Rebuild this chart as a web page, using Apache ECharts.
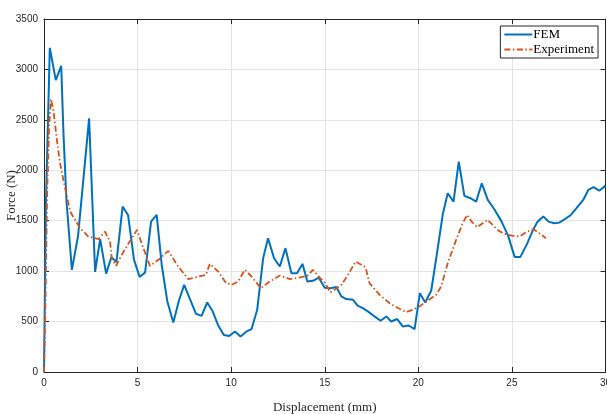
<!DOCTYPE html>
<html>
<head>
<meta charset="utf-8">
<script src="https://cdn.jsdelivr.net/npm/echarts@6/dist/echarts.min.js"></script>
<style>
  html, body { margin: 0; padding: 0; background: #fff; }
  #chart { width: 607px; height: 414px; }
</style>
</head>
<body>
<div id="chart"></div>
<script>
// Displacement (mm) / force (N) samples
const femX = [0, 0.1, 0.31, 0.63, 0.92, 1.04, 1.2, 1.49, 1.82, 2.41, 2.73, 3.0, 3.32, 3.6, 3.87, 4.2, 4.49, 4.81, 5.11, 5.4,
  5.72, 6.02, 6.29, 6.59, 6.91, 7.21, 7.49, 7.8, 8.12, 8.42, 8.72, 8.99, 9.31, 9.61, 9.9, 10.2, 10.5, 10.82, 11.09, 11.39,
  11.71, 11.97, 12.29, 12.6, 12.9, 13.22, 13.52, 13.81, 14.07, 14.37, 14.68, 15.0, 15.3, 15.62, 15.89, 16.15, 16.51, 16.77, 17.04, 17.36,
  17.66, 17.98, 18.29, 18.55, 18.87, 19.17, 19.49, 19.8, 20.08, 20.37, 20.69, 21.01, 21.31, 21.57, 21.88, 22.16, 22.46, 22.78, 23.09, 23.39,
  23.71, 24.06, 24.45, 24.8, 25.15, 25.45, 25.81, 26.11, 26.37, 26.68, 26.96, 27.26, 27.53, 27.85, 28.15, 28.45, 28.81, 29.08, 29.36, 29.67, 30.0];
const femY = [0, 1650, 3214, 2894, 3036, 2366, 1700, 1013, 1350, 2515, 993, 1317, 975, 1139, 1090, 1640, 1557, 1112, 943, 986,
  1491, 1557, 1062, 699, 491, 709, 864, 723, 577, 557, 689, 610, 461, 367, 356, 402, 353, 402, 426, 617,
  1129, 1327, 1129, 1046, 1228, 980, 980, 1072, 897, 904, 935, 836, 831, 842, 749, 723, 716, 656, 634, 594,
  551, 508, 551, 501, 525, 452, 461, 426, 782, 689, 808, 1194, 1567, 1772, 1689, 2085, 1746, 1723, 1689, 1871,
  1706, 1614, 1491, 1350, 1139, 1139, 1270, 1402, 1491, 1541, 1491, 1475, 1481, 1518, 1557, 1624, 1706, 1805, 1832, 1798, 1848];

const expX = [0, 0.08, 0.17, 0.28, 0.37, 0.5, 0.69, 0.85, 1.04, 1.4, 1.93, 2.37, 2.91, 3.26, 3.53, 3.62, 3.85, 4.15, 4.6, 4.97,
  5.31, 5.66, 6.11, 6.64, 7.17, 7.71, 8.15, 8.65, 8.86, 9.31, 9.72, 10.02, 10.37, 10.73, 11.09, 11.58, 12.06, 12.6, 13.13, 13.75,
  14.07, 14.37, 14.73, 15.0, 15.3, 15.89, 16.24, 16.65, 17.18, 17.39, 17.93, 18.46, 18.91, 19.35, 19.71, 20.06, 20.42, 20.95, 21.22, 21.57,
  22.02, 22.37, 22.61, 22.85, 23.14, 23.44, 23.71, 23.97, 24.28, 24.6, 24.99, 25.4, 25.81, 26.16, 26.46, 26.82];
const expY = [0, 700, 1800, 2450, 2706, 2600, 2300, 2080, 1900, 1590, 1426, 1343, 1317, 1392, 1293, 1129, 1052, 1161, 1300, 1409,
  1228, 1052, 1112, 1201, 1046, 921, 941, 963, 1072, 996, 884, 864, 897, 1013, 947, 831, 897, 957, 921, 940,
  953, 1013, 935, 887, 788, 864, 963, 1095, 1040, 881, 765, 683, 634, 594, 617, 650, 699, 765, 848, 1079,
  1310, 1475, 1557, 1491, 1436, 1475, 1508, 1458, 1402, 1369, 1352, 1343, 1392, 1416, 1376, 1327];

const xTicks = [0, 5, 10, 15, 20, 25, 30];
const yTicks = [0, 500, 1000, 1500, 2000, 2500, 3000, 3500];

const pairs = (xs, ys) => xs.map((x, i) => [x, ys[i]]);

const axisColor = '#262626';
const gridColor = '#e3e3e3';
const serif = '"Liberation Serif", "Times New Roman", serif';
const sans = '"Liberation Sans", Arial, sans-serif';

const chart = echarts.init(document.getElementById('chart'), null, { renderer: 'canvas' });

const baseX = {
  type: 'value', min: xTicks[0], max: xTicks[xTicks.length - 1], interval: 5,
  axisLine: { show: true, onZero: false, lineStyle: { color: axisColor, width: 1 } },
  axisTick: { show: true, inside: true, length: 5, lineStyle: { color: axisColor } }
};
const baseY = {
  type: 'value', min: yTicks[0], max: yTicks[yTicks.length - 1], interval: 500,
  axisLine: { show: true, onZero: false, lineStyle: { color: axisColor, width: 1 } },
  axisTick: { show: true, inside: true, length: 5, lineStyle: { color: axisColor } }
};

chart.setOption({
  animation: false,
  backgroundColor: '#ffffff',
  grid: { left: 44, right: 1.5, top: 19, bottom: 42, containLabel: false, outerBoundsMode: 'none' },
  legend: {
    data: ['FEM', 'Experiment'],
    orient: 'vertical',
    right: 9, top: 26,
    backgroundColor: '#ffffff',
    borderColor: '#262626', borderWidth: 1,
    padding: [2, 4, 2, 3],
    itemWidth: 28, itemHeight: 10, itemGap: 2,
    itemStyle: { opacity: 0 },
    textStyle: { fontFamily: serif, fontSize: 13, color: '#000', padding: [0, 0, 0, -4] }
  },
  xAxis: [
    Object.assign({}, baseX, {
      position: 'bottom',
      name: 'Displacement (mm)', nameLocation: 'middle', nameGap: 29, nameMoveOverlap: false,
      nameTextStyle: { fontFamily: serif, fontSize: 13, color: axisColor },
      axisLabel: { show: true, fontFamily: sans, fontSize: 10, color: axisColor, margin: 6, formatter: v => String(v) },
      splitLine: { show: true, lineStyle: { color: gridColor, width: 1 } }
    }),
    Object.assign({}, baseX, {
      position: 'top',
      axisLabel: { show: false },
      splitLine: { show: false }
    })
  ],
  yAxis: [
    Object.assign({}, baseY, {
      position: 'left',
      name: 'Force (N)', nameLocation: 'middle', nameGap: 26, nameRotate: 90, nameMoveOverlap: false,
      nameTextStyle: { fontFamily: serif, fontSize: 13, color: axisColor },
      axisLabel: { show: true, fontFamily: sans, fontSize: 10, color: axisColor, margin: 6, formatter: v => String(v) },
      splitLine: { show: true, lineStyle: { color: gridColor, width: 1 } }
    }),
    Object.assign({}, baseY, {
      position: 'right',
      axisLabel: { show: false },
      splitLine: { show: false }
    })
  ],
  series: [
    {
      name: 'FEM', type: 'line', xAxisIndex: 0, yAxisIndex: 0,
      data: pairs(femX, femY),
      symbol: 'none', showSymbol: false,
      lineStyle: { color: '#0072BD', width: 2 },
      itemStyle: { color: '#0072BD' },
      z: 3
    },
    {
      name: 'Experiment', type: 'line', xAxisIndex: 0, yAxisIndex: 0,
      data: pairs(expX, expY),
      symbol: 'none', showSymbol: false,
      lineStyle: { color: '#D95319', width: 1.8, type: [6, 2.5, 1.5, 2.5] },
      itemStyle: { color: '#D95319' },
      z: 4
    }
  ]
});
</script>
</body>
</html>
